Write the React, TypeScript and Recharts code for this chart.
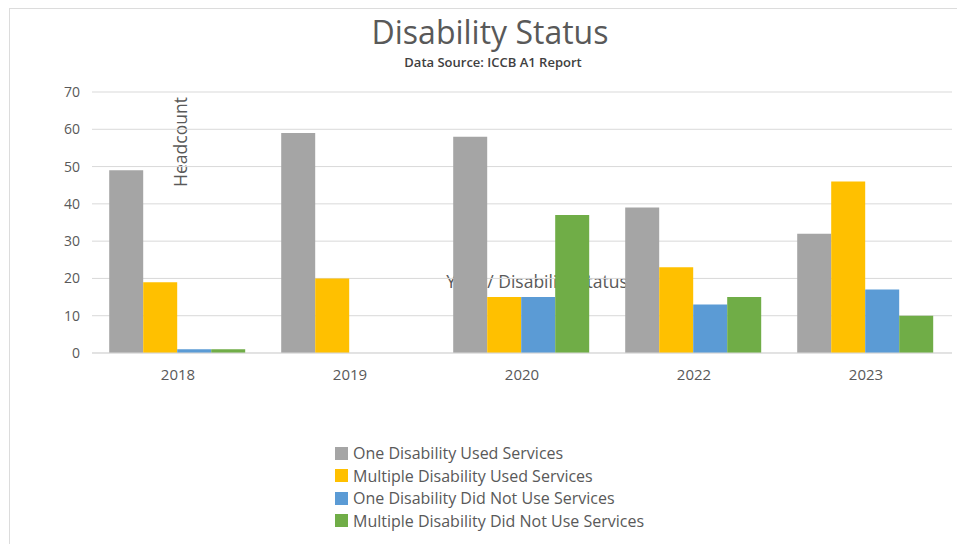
import React from 'react';
import { BarChart, Bar, XAxis, YAxis, CartesianGrid } from 'recharts';

const categories = ['2018', '2019', '2020', '2022', '2023'];
const oneUsed = [49, 59, 58, 39, 32];
const multiUsed = [19, 20, 15, 23, 46];
const oneNotUsed = [1, 0, 15, 13, 17];
const multiNotUsed = [1, 0, 37, 15, 10];
const yTicks = [0, 10, 20, 30, 40, 50, 60, 70];

const seriesNames = [
  'One Disability Used Services',
  'Multiple Disability Used Services',
  'One Disability Did Not Use Services',
  'Multiple Disability Did Not Use Services',
];
const seriesKeys = ['oneUsed', 'multiUsed', 'oneNotUsed', 'multiNotUsed'];
const seriesColors = ['#a5a5a5', '#ffc000', '#5b9bd5', '#70ad47'];

const titleText = 'Disability Status';
const subtitleText = 'Data Source: ICCB A1 Report';
const xAxisTitle = 'Year / Disability Status';
const yAxisTitle = 'Headcount';

const data = categories.map((c, i) => ({
  year: c,
  oneUsed: oneUsed[i],
  multiUsed: multiUsed[i],
  oneNotUsed: oneNotUsed[i],
  multiNotUsed: multiNotUsed[i],
}));

const FONT = '"Open Sans", sans-serif';
const TEXT = '#595959';

export default function App() {
  return (
    <div style={{ position: 'absolute', left: 0, top: 0, width: 957, height: 544, background: '#fff', overflow: 'hidden', fontFamily: FONT }}>
      <div style={{ position: 'absolute', left: 9, top: 8, width: 948, height: 1, background: '#dcdcdc' }} />
      <div style={{ position: 'absolute', left: 9, top: 8, width: 1, height: 536, background: '#dcdcdc' }} />
      <div style={{ position: 'absolute', left: 0, width: 980, top: 11, textAlign: 'center', fontSize: 32, color: TEXT, fontFamily: FONT, lineHeight: '42px' }}>
        {titleText}
      </div>
      <div style={{ position: 'absolute', left: 0, width: 986, top: 53, textAlign: 'center', fontSize: 13, fontWeight: 600, color: '#404040', fontFamily: FONT, lineHeight: '18px' }}>
        {subtitleText}
      </div>
      {/* axis titles drawn beneath the plot, as in the reference where bars cover them */}
      <div style={{ position: 'absolute', left: 337, width: 400, top: 270, textAlign: 'center', fontSize: 17.5, color: TEXT, fontFamily: FONT, lineHeight: '22px', whiteSpace: 'nowrap' }}>
        {xAxisTitle}
      </div>
      <div style={{ position: 'absolute', left: 80, width: 200, top: 131, height: 22, textAlign: 'center', fontSize: 17.5, color: TEXT, fontFamily: FONT, lineHeight: '22px', transform: 'rotate(-90deg)', transformOrigin: '100px 11px', whiteSpace: 'nowrap' }}>
        {yAxisTitle}
      </div>
      <div style={{ position: 'absolute', left: 0, top: 0 }}>
        <BarChart
          width={957}
          height={544}
          data={data}
          margin={{ top: 92, right: 5, left: 52, bottom: 161 }}
          barCategoryGap="10%"
          barGap={0}
        >
          <CartesianGrid vertical={false} stroke="#d9d9d9" />
          <YAxis
            width={40}
            domain={[0, 70]}
            ticks={yTicks}
            axisLine={false}
            tickLine={false}
            tickSize={0}
            tickMargin={12}
            tick={{ fill: TEXT, fontSize: 14, fontFamily: FONT }}
          />
          <XAxis
            dataKey="year"
            height={30}
            axisLine={{ stroke: '#d9d9d9' }}
            tickLine={false}
            tickSize={0}
            tickMargin={16}
            tick={{ fill: TEXT, fontSize: 15, fontFamily: FONT }}
          />
          {seriesKeys.map((k, i) => (
            <Bar key={k} dataKey={k} name={seriesNames[i]} fill={seriesColors[i]} isAnimationActive={false} />
          ))}
        </BarChart>
      </div>
      <div style={{ position: 'absolute', left: 335, top: 442 }}>
        {seriesNames.map((n, i) => (
          <div key={n} style={{ display: 'flex', alignItems: 'center', height: 22.5, fontSize: 16, color: TEXT, fontFamily: FONT, whiteSpace: 'nowrap' }}>
            <span style={{ display: 'inline-block', width: 13, height: 13, background: seriesColors[i], marginRight: 5 }} />
            <span>{n}</span>
          </div>
        ))}
      </div>
    </div>
  );
}
